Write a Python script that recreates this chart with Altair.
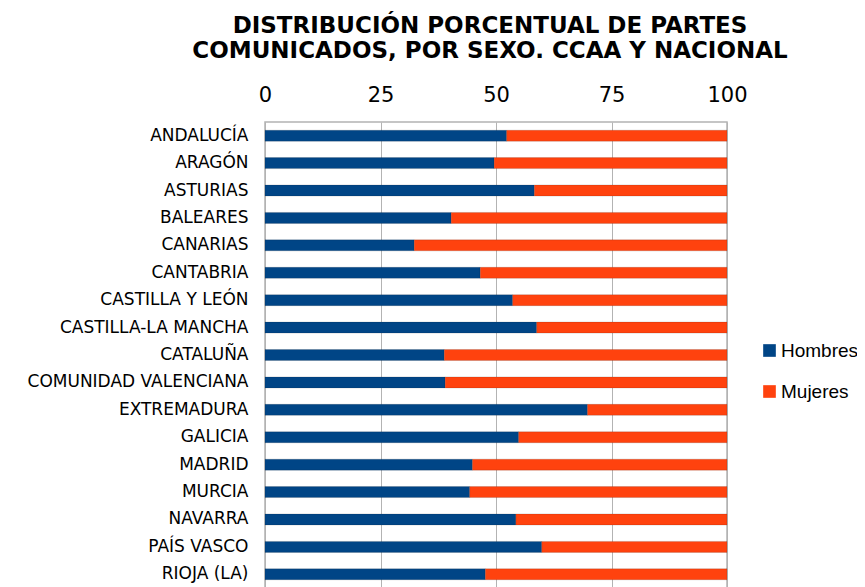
import altair as alt
import pandas as pd

regiones = ["ANDALUCÍA", "ARAGÓN", "ASTURIAS", "BALEARES", "CANARIAS", "CANTABRIA",
            "CASTILLA Y LEÓN", "CASTILLA-LA MANCHA", "CATALUÑA", "COMUNIDAD VALENCIANA",
            "EXTREMADURA", "GALICIA", "MADRID", "MURCIA", "NAVARRA", "PAÍS VASCO", "RIOJA (LA)"]
hombres = [52.3, 49.6, 58.3, 40.3, 32.3, 46.6, 53.6, 58.8, 38.8, 39.0,
           69.8, 54.9, 44.9, 44.3, 54.3, 59.9, 47.7]
mujeres = [round(100 - h, 1) for h in hombres]
series = ["Hombres", "Mujeres"]
colores = ["#004586", "#ff420e"]

rows = []
for r, h, m in zip(regiones, hombres, mujeres):
    rows.append({"region": r, "sexo": "Hombres", "valor": h, "orden": 0})
    rows.append({"region": r, "sexo": "Mujeres", "valor": m, "orden": 1})
df = pd.DataFrame(rows)

FONT = "DejaVu Sans"

chart = alt.Chart(df).mark_bar(size=11, stroke="#1a1a1a", strokeWidth=0.3, strokeOpacity=0.5).encode(
    x=alt.X("sum(valor):Q", stack="zero",
            scale=alt.Scale(domain=[0, 100], nice=False),
            axis=alt.Axis(orient="top", values=[0, 25, 50, 75, 100], title=None,
                          labelFontSize=21, labelFont=FONT, labelColor="#000000",
                          ticks=False, domain=False, labelPadding=17, labelFlush=False,
                          grid=True, gridColor="#b3b3b3", gridWidth=1)),
    y=alt.Y("region:N", sort=regiones, title=None,
            axis=alt.Axis(labelFontSize=17, labelFont=FONT, labelColor="#000000",
                          ticks=False, domain=False, labelPadding=17, grid=False,
                          labelLimit=400)),
    color=alt.Color("sexo:N", scale=alt.Scale(domain=series, range=colores),
                    legend=alt.Legend(title=None, orient="none", legendX=495, legendY=219,
                                      symbolType="square", symbolSize=160,
                                      labelFontSize=19, labelFont="Liberation Sans", labelOffset=2,
                                      labelColor="#000000", rowPadding=21,
                                      symbolStrokeWidth=0)),
    order=alt.Order("orden:Q"),
).properties(
    width=462, height=466,
    padding={"left": 257, "top": 114, "right": 130, "bottom": 0},
    autosize=alt.AutoSizeParams(type="none"),
    title=alt.TitleParams(["DISTRIBUCIÓN PORCENTUAL DE PARTES",
                           "COMUNICADOS, POR SEXO. CCAA Y NACIONAL"],
                          font=FONT, fontSize=23, fontWeight="bold", dx=-6,
                          color="#000000", anchor="middle", offset=21, lineHeight=25),
).configure_view(stroke="#b3b3b3", strokeWidth=1.5)

chart.save("out.html", embed_options={"renderer": "svg", "actions": False})
